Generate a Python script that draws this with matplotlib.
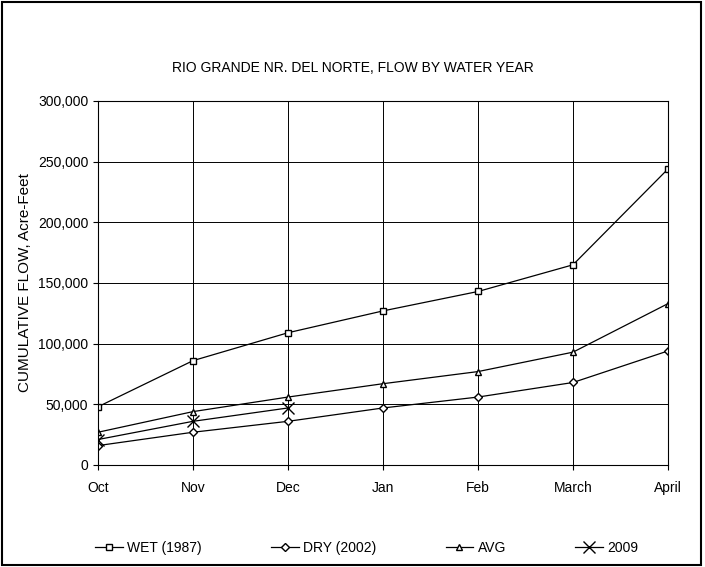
import matplotlib.pyplot as plt

plt.rcParams['font.family'] = ['Liberation Sans', 'DejaVu Sans']

months = ['Oct', 'Nov', 'Dec', 'Jan', 'Feb', 'March', 'April']
wet = [48000, 86000, 109000, 127000, 143000, 165000, 244000]
dry = [16000, 27000, 36000, 47000, 56000, 68000, 94000]
avg = [27000, 44000, 56000, 67000, 77000, 93000, 133000]
y2009 = [21000, 36000, 47000]

fig = plt.figure(figsize=(7.05, 5.67), dpi=100)
fig.patches.append(plt.Rectangle((0.003, 0.003), 0.992, 0.994, transform=fig.transFigure,
                                 fill=False, edgecolor='black', linewidth=1.5))
ax = fig.add_axes([98 / 705, 1 - 465 / 567, 570 / 705, 364 / 567])

x = range(len(months))
kw = dict(color='black', linewidth=0.9, markerfacecolor='white', markeredgecolor='black')
ax.plot(x, wet, marker='s', markersize=5, label='WET (1987)', **kw)
ax.plot(x, dry, marker='D', markersize=4, label='DRY (2002)', **kw)
ax.plot(x, avg, marker='^', markersize=5, label='AVG', **kw)
ax.plot(range(len(y2009)), y2009, marker='x', markersize=9, label='2009', **kw)

ax.set_xlim(0, 6)
ax.set_ylim(0, 300000)
ax.set_xticks(list(x))
ax.set_xticklabels(months)
ax.set_yticks(range(0, 300001, 50000))
ax.set_yticklabels(['{:,}'.format(v) for v in range(0, 300001, 50000)])
ax.grid(True, color='black', linewidth=0.7)
ax.tick_params(labelsize=10, direction='out')
ax.xaxis.set_tick_params(pad=8)
for s in ax.spines.values():
    s.set_linewidth(0.8)
ax.set_ylabel('CUMULATIVE FLOW, Acre-Feet', fontsize=11, labelpad=4)

fig.text(0.5, 1 - 68 / 567, 'RIO GRANDE NR. DEL NORTE, FLOW BY WATER YEAR',
         ha='center', va='center', fontsize=10)

fig.legend(loc='center', bbox_to_anchor=(0.52, 1 - 548 / 567), ncol=4, frameon=False,
           fontsize=10, handlelength=2, handletextpad=0.3, columnspacing=5)

fig.savefig('out.png', dpi=100)
